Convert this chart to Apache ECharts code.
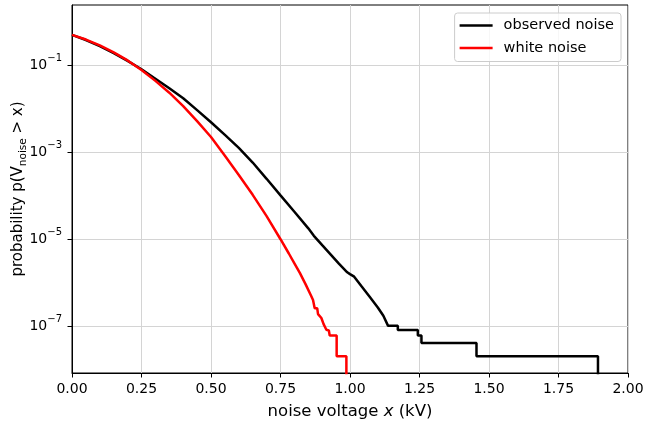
<!DOCTYPE html>
<html><head><meta charset="utf-8">
<script src="https://cdn.jsdelivr.net/npm/echarts@6/dist/echarts.min.js"></script>
<style>html,body{margin:0;padding:0;background:#fff}#c{width:645px;height:422px}</style>
</head><body><div id="c"></div>
<script>
// ---- data ----
const seriesNames = ['observed noise', 'white noise'];
const observedX = [0,0.05,0.10,0.15,0.20,0.25,0.30,0.35,0.40,0.45,0.50,0.55,0.60,0.65,0.70,0.75,0.80,0.85,0.87,0.90,0.93,0.96,0.99,1.00,1.015,1.04,1.07,1.10,1.12,1.137,1.172,1.172,1.244,1.244,1.257,1.257,1.455,1.455,1.892,1.892];
const observedP = [0.50,0.38,0.275,0.19,0.126,0.081,0.049,0.0295,0.0174,0.0093,0.0049,0.0025,0.00126,5.8e-4,2.45e-4,1.02e-4,4.3e-5,1.78e-5,1.2e-5,7.3e-6,4.5e-6,2.75e-6,1.74e-6,1.58e-6,1.38e-6,8.5e-7,4.8e-7,2.7e-7,1.74e-7,1.02e-7,1.02e-7,8.2e-8,8.2e-8,6.1e-8,6.1e-8,4.1e-8,4.1e-8,2.04e-8,2.04e-8,0];
const whiteX = [0,0.05,0.10,0.15,0.20,0.25,0.30,0.35,0.40,0.45,0.50,0.55,0.60,0.65,0.70,0.75,0.78,0.80,0.82,0.84,0.86,0.867,0.873,0.882,0.885,0.897,0.905,0.915,0.924,0.927,0.952,0.952,0.987,0.987];
const whiteP = [0.50,0.39,0.285,0.197,0.129,0.078,0.0437,0.0234,0.0115,0.0052,0.00224,8.3e-4,3.0e-4,1.05e-4,3.4e-5,1.0e-5,4.7e-6,2.8e-6,1.66e-6,9.3e-7,5.0e-7,4.0e-7,2.6e-7,2.6e-7,1.9e-7,1.55e-7,1.12e-7,8.3e-8,8.0e-8,6.1e-8,6.1e-8,2.04e-8,2.04e-8,0];
const xTicks = [0,0.25,0.5,0.75,1.0,1.25,1.5,1.75,2.0];
const yTicks = [1e-7,1e-5,1e-3,1e-1];
const xName = 'noise voltage ';
const yNameParts = ['probability p(V', 'noise', ' > x)'];

// zero probability is clipped below the axis (like a log plot)
const FLOOR = 1e-14;
function pairs(xs, ps){ return xs.map((x,i)=>[x, ps[i] > 0 ? ps[i] : FLOOR]); }

const FONT = 'DejaVu Sans';
const chart = echarts.init(document.getElementById('c'), null, {renderer:'canvas'});
chart.setOption({
  animation: false,
  textStyle: {fontFamily: FONT, color: '#000'},
  grid: {left: 72, top: 5, right: 17, bottom: 49, containLabel: false, outerBoundsMode: 'none',
         show: true, borderColor: '#000', borderWidth: 1, backgroundColor: 'transparent'},
  legend: {
    orient: 'vertical', right: 24, top: 13,
    icon: 'rect', itemWidth: 33, itemHeight: 2.5, itemGap: 7.5,
    padding: [5, 7, 6, 5],
    backgroundColor: 'rgba(255,255,255,0.8)', borderColor: '#cccccc', borderWidth: 1, borderRadius: 3,
    textStyle: {fontFamily: FONT, fontSize: 14.5, lineHeight: 14, color: '#000', padding: [0,0,0,6]},
    data: seriesNames
  },
  xAxis: {
    type: 'value', min: xTicks[0], max: xTicks[xTicks.length-1], interval: 0.25,
    name: '{n|' + xName + '}{i|x}{n| (kV)}', nameLocation: 'middle', nameGap: 30, nameMoveOverlap: false,
    nameTextStyle: {rich: {n: {fontFamily: FONT, fontSize: 16.5, color: '#000'}, i: {fontFamily: FONT, fontSize: 16.5, fontStyle: 'italic', color: '#000'}}},
    axisLine: {show: true, lineStyle: {color: '#000', width: 1}},
    axisTick: {show: true, inside: false, length: 4.5, lineStyle: {color: '#000', width: 1}},
    axisLabel: {fontFamily: FONT, fontSize: 14, color: '#000', margin: 9, formatter: v => v.toFixed(2)},
    splitLine: {show: true, lineStyle: {color: '#d4d4d4', width: 1}}
  },
  yAxis: {
    type: 'log', logBase: 10, min: Math.pow(10, -8.075), max: Math.pow(10, 0.385),
    name: '{a|' + yNameParts[0] + '}{s|' + yNameParts[1] + '}{a|' + yNameParts[2] + '}',
    nameLocation: 'middle', nameGap: 43, nameRotate: 90, nameMoveOverlap: false,
    nameTextStyle: {rich: {
      a: {fontFamily: FONT, fontSize: 15, color: '#000', lineHeight: 22},
      s: {fontFamily: FONT, fontSize: 10.5, color: '#000', lineHeight: 11, verticalAlign: 'bottom'}
    }},
    axisLine: {show: true, lineStyle: {color: '#000', width: 1}},
    axisTick: {show: true, inside: false, length: 4.5, lineStyle: {color: '#000', width: 1}, customValues: yTicks},
    minorTick: {show: false},
    axisLabel: {
      customValues: yTicks, margin: 10,
      formatter: v => '{b|10}{s|\u2212' + Math.round(-Math.log10(v)) + '}',
      rich: {
        b: {fontFamily: FONT, fontSize: 14, color: '#000', lineHeight: 24},
        s: {fontFamily: FONT, fontSize: 10, color: '#000', lineHeight: 10, verticalAlign: 'top'}
      }
    },
    splitLine: {show: true, lineStyle: {color: '#d4d4d4', width: 1}}
  },
  series: [
    {name: seriesNames[0], type: 'line', data: pairs(observedX, observedP), symbol: 'none', showSymbol: false, clip: true,
     lineStyle: {color: '#000000', width: 2.5}, itemStyle: {color: '#000000'}, z: 3},
    {name: seriesNames[1], type: 'line', data: pairs(whiteX, whiteP), symbol: 'none', showSymbol: false, clip: true,
     lineStyle: {color: '#ff0000', width: 2.5}, itemStyle: {color: '#ff0000'}, z: 4}
  ]
});
</script></body></html>
